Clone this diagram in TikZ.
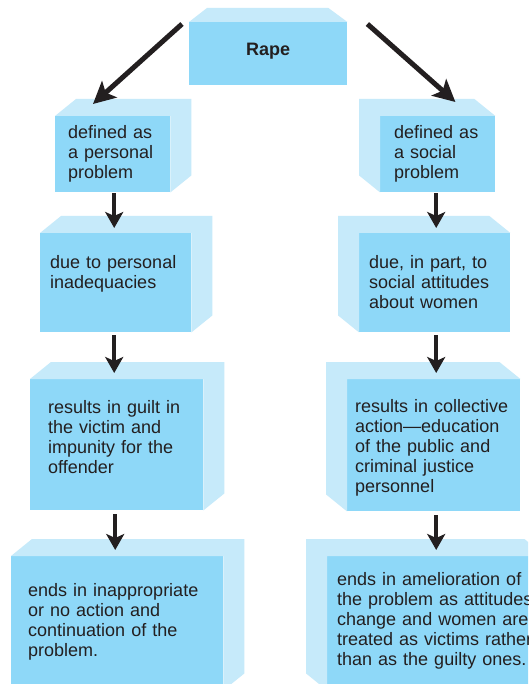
\documentclass[tikz,border=0pt]{standalone}
\usepackage{fontspec}
\setmainfont{Liberation Sans}
\usetikzlibrary{arrows.meta,calc}
\definecolor{frontc}{HTML}{8ED8F8}
\definecolor{facec}{HTML}{C6EAFA}
\definecolor{inkc}{HTML}{231F20}
\begin{document}
\begin{tikzpicture}[x=1pt,y=-1pt,
  box/.style={fill=frontc, inner ysep=0pt, anchor=north west, align=left,
    font=\fontsize{18}{20}\selectfont, text=inkc},
  varr/.style={draw=inkc, line width=4pt, -{Stealth[length=16pt,width=18pt,inset=4pt]}},
  darr/.style={draw=inkc, line width=5pt, -{Stealth[length=22pt,width=22pt,inset=5pt]}}]
\useasboundingbox (0,0) rectangle (528,684);
\clip (0,0) rectangle (528,684);
\fill[white] (0,0) rectangle (528,684);

% top box
\node[fill=frontc, anchor=north west, inner sep=0pt, minimum width=158pt,
  text height=33pt, text depth=30pt, text=inkc,
  font=\fontsize{18}{20}\selectfont\bfseries] (Rape) at (189,22) {Rape};
\fill[facec] (Rape.north west) -- ++(18,-14) -- ($(Rape.north east)+(-19,-14)$) -- (Rape.north east) -- cycle;

% left column
\node[box, inner xsep=13pt, text width=89pt, text height=22pt, text depth=54pt] (L1) at (55,116)
  {defined as\\a personal\\problem};
\node[box, inner xsep=10pt, text width=131pt, text height=35pt, text depth=64pt] (L2) at (40,233)
  {due to personal\\inadequacies};
\node[box, inner xsep=18pt, text width=137pt, text height=34pt, text depth=97pt] (L3) at (30,379)
  {results in guilt in\\the victim and\\impunity for the\\offender};
\node[box, inner xsep=17pt, text width=178pt, text height=40pt, text depth=94pt] (L4) at (11,556)
  {ends in inappropriate\\or no action and\\continuation of the\\problem.};

% right column
\node[box, inner xsep=14pt, text width=87pt, text height=22pt, text depth=54pt] (R1) at (380,116)
  {defined as\\a social\\problem};
\node[box, inner xsep=10pt, text width=131pt, text height=35pt, text depth=64pt] (R2) at (359,233)
  {due, in part, to\\social attitudes\\about women};
\node[box, inner xsep=8pt, text width=157pt, text height=33pt, text depth=99pt] (R3) at (347,379)
  {results in collective\\action—education\\of the public and\\criminal justice\\personnel};
\node[box, inner xsep=10pt, text width=198pt, text height=29pt, text depth=105pt] (R4) at (327,556)
  {ends in amelioration of\\the problem as attitudes\\change and women are\\treated as victims rather\\than as the guilty ones.};

% faces
\foreach \n in {L1,L2,L3,L4}{
  \fill[facec] (\n.north west) -- ++(21,-17) -- ($(\n.north east)+(21,-17)$)
    -- ($(\n.south east)+(21,-17)$) -- (\n.south east) -- (\n.north east) -- cycle;
}
\foreach \n in {R1,R2,R3,R4}{
  \fill[facec] (\n.north east) -- ++(-21,-17) -- ($(\n.north west)+(-21,-17)$)
    -- ($(\n.south west)+(-21,-17)$) -- (\n.south west) -- (\n.north west) -- cycle;
}

% arrows
\draw[darr] ($(Rape.north west)+(-7,2)$) -- ($(L1.north west)+(38,-12)$);
\draw[darr] ($(Rape.north east)+(20,2)$) -- ($(R1.north east)+(-40,-14)$);

\draw[varr] ($(L1.south)+(1.5,1)$) -- ($(L1.south|-L2.north)+(1.5,-5)$);
\draw[varr] ($(L2.south)+(-1.5,3)$) -- ($(L2.south|-L3.north)+(-1.5,-6)$);
\draw[varr] ($(L3.south)+(-1.5,4)$) -- ($(L3.south|-L4.north)+(-1.5,-6)$);
\draw[varr] ($(R1.south)+(-1.5,1)$) -- ($(R1.south|-R2.north)+(-1.5,-5)$);
\draw[varr] ($(R2.south)+(1.5,3)$) -- ($(R2.south|-R3.north)+(1.5,-6)$);
\draw[varr] ($(R3.south)+(2.5,4)$) -- ($(R3.south|-R4.north)+(2.5,-6)$);
\end{tikzpicture}
\end{document}
